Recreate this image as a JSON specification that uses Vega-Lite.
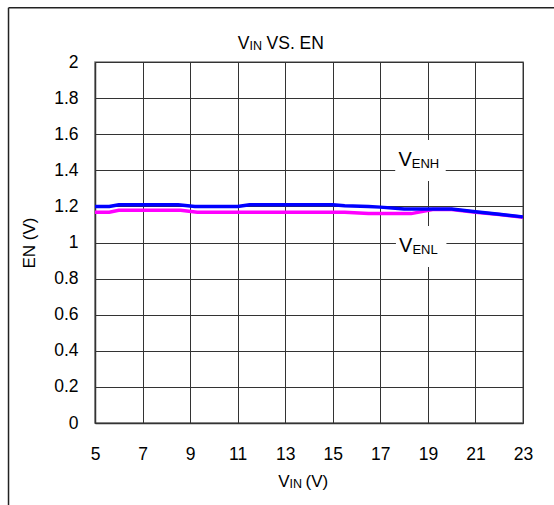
{
  "$schema": "https://vega.github.io/schema/vega-lite/v6.json",
  "autosize": {"type": "none"},
  "width": 428,
  "height": 361,
  "padding": {"left": 95, "top": 62, "right": 31, "bottom": 82},
  "background": "white",
  "config": {
    "font": "Liberation Sans Narrow, Liberation Sans, Arial",
    "view": {"stroke": "#808080", "strokeWidth": 1.5},
    "axis": {
      "grid": true,
      "gridColor": "#333333",
      "gridWidth": 1,
      "domainColor": "#333333",
      "domainWidth": 1.5,
      "ticks": false,
      "labelOverlap": false,
      "labelFlush": false,
      "labelBound": false,
      "labelColor": "#000000",
      "labelFontSize": 17.5,
      "titleColor": "#000000",
      "titleFontSize": 17,
      "titleFontWeight": "normal"
    }
  },
  "datasets": {
    "curves": [
      {"series": "VENH", "vin": 5, "en": 1.2},
      {"series": "VENH", "vin": 5.6, "en": 1.2},
      {"series": "VENH", "vin": 6, "en": 1.209},
      {"series": "VENH", "vin": 8.5, "en": 1.209},
      {"series": "VENH", "vin": 9.2, "en": 1.2},
      {"series": "VENH", "vin": 11, "en": 1.2},
      {"series": "VENH", "vin": 11.5, "en": 1.209},
      {"series": "VENH", "vin": 15, "en": 1.209},
      {"series": "VENH", "vin": 15.5, "en": 1.204},
      {"series": "VENH", "vin": 16.5, "en": 1.2},
      {"series": "VENH", "vin": 17, "en": 1.196},
      {"series": "VENH", "vin": 18, "en": 1.185},
      {"series": "VENH", "vin": 20, "en": 1.185},
      {"series": "VENH", "vin": 21, "en": 1.17},
      {"series": "VENH", "vin": 22, "en": 1.157},
      {"series": "VENH", "vin": 23, "en": 1.142},
      {"series": "VENL", "vin": 5, "en": 1.168},
      {"series": "VENL", "vin": 5.6, "en": 1.168},
      {"series": "VENL", "vin": 6, "en": 1.178},
      {"series": "VENL", "vin": 8.6, "en": 1.178},
      {"series": "VENL", "vin": 9.3, "en": 1.168},
      {"series": "VENL", "vin": 15.5, "en": 1.168},
      {"series": "VENL", "vin": 16.5, "en": 1.16},
      {"series": "VENL", "vin": 18.3, "en": 1.16},
      {"series": "VENL", "vin": 19.2, "en": 1.183},
      {"series": "VENL", "vin": 20, "en": 1.183},
      {"series": "VENL", "vin": 21, "en": 1.168},
      {"series": "VENL", "vin": 22, "en": 1.155},
      {"series": "VENL", "vin": 23, "en": 1.14}
    ],
    "labels": [
      {"name": "V", "sub": "ENH", "x": 18.32, "y": 1.424},
      {"name": "V", "sub": "ENL", "x": 18.35, "y": 0.948}
    ]
  },
  "layer": [
    {
      "data": {"name": "labels"},
      "mark": {"type": "point", "shape": "M-0.66,-1.04H1.36V0.6H-0.66Z", "size": 2500, "filled": true, "fill": "white", "strokeWidth": 0, "opacity": 1},
      "encoding": {
        "x": {"field": "x", "type": "quantitative", "scale": {"domain": [5, 23], "nice": false, "zero": false},
              "axis": {"values": [5, 7, 9, 11, 13, 15, 17, 19, 21, 23], "tickCount": 30, "format": "d", "title": null, "labelPadding": 22, "labelBaseline": "top"}},
        "y": {"field": "y", "type": "quantitative", "scale": {"domain": [0, 2], "nice": false, "zero": false},
              "axis": {"values": [0, 0.2, 0.4, 0.6, 0.8, 1, 1.2, 1.4, 1.6, 1.8, 2], "tickCount": 30, "format": ".1~f", "title": "EN (V)", "labelPadding": 17, "titlePadding": 15}}
      }
    },
    {
      "data": {"name": "curves"},
      "transform": [{"filter": "datum.series === 'VENL'"}],
      "mark": {"type": "line", "color": "#ff00ff", "strokeWidth": 3.5},
      "encoding": {
        "x": {"field": "vin", "type": "quantitative"},
        "y": {"field": "en", "type": "quantitative"}
      }
    },
    {
      "data": {"name": "curves"},
      "transform": [{"filter": "datum.series === 'VENH'"}],
      "mark": {"type": "line", "color": "#0000ff", "strokeWidth": 3.5},
      "encoding": {
        "x": {"field": "vin", "type": "quantitative"},
        "y": {"field": "en", "type": "quantitative"}
      }
    },
    {
      "data": {"name": "labels"},
      "mark": {"type": "text", "align": "right", "baseline": "alphabetic", "fontSize": 20, "color": "#000000"},
      "encoding": {
        "x": {"field": "x", "type": "quantitative"},
        "y": {"field": "y", "type": "quantitative"},
        "text": {"field": "name"}
      }
    },
    {
      "data": {"name": "labels"},
      "mark": {"type": "text", "align": "left", "baseline": "alphabetic", "fontSize": 13, "dy": 2, "color": "#000000"},
      "encoding": {
        "x": {"field": "x", "type": "quantitative"},
        "y": {"field": "y", "type": "quantitative"},
        "text": {"field": "sub"}
      }
    },
    {
      "data": {"values": [{}]},
      "mark": {"type": "text", "text": "V", "align": "right", "baseline": "alphabetic", "fontSize": 17.5, "color": "#000000"},
      "encoding": {"x": {"datum": 11.5}, "y": {"datum": 2.072}}
    },
    {
      "data": {"values": [{}]},
      "mark": {"type": "text", "text": "IN", "align": "left", "baseline": "alphabetic", "fontSize": 12.5, "dy": 1, "color": "#000000"},
      "encoding": {"x": {"datum": 11.5}, "y": {"datum": 2.072}}
    },
    {
      "data": {"values": [{}]},
      "mark": {"type": "text", "text": "VS. EN", "align": "left", "baseline": "alphabetic", "fontSize": 17.5, "dx": 17, "color": "#000000"},
      "encoding": {"x": {"datum": 11.5}, "y": {"datum": 2.072}}
    },
    {
      "data": {"values": [{}]},
      "mark": {"type": "text", "text": "V", "align": "right", "baseline": "alphabetic", "fontSize": 17, "color": "#000000"},
      "encoding": {"x": {"datum": 13.18}, "y": {"datum": -0.354}}
    },
    {
      "data": {"values": [{}]},
      "mark": {"type": "text", "text": "IN", "align": "left", "baseline": "alphabetic", "fontSize": 12.5, "dy": 1, "color": "#000000"},
      "encoding": {"x": {"datum": 13.18}, "y": {"datum": -0.354}}
    },
    {
      "data": {"values": [{}]},
      "mark": {"type": "text", "text": "(V)", "align": "left", "baseline": "alphabetic", "fontSize": 17, "dx": 16, "color": "#000000"},
      "encoding": {"x": {"datum": 13.18}, "y": {"datum": -0.354}}
    },
    {
      "data": {"values": [{}]},
      "mark": {"type": "rule", "color": "#222222", "strokeWidth": 1.5},
      "encoding": {"x": {"datum": 1.363}, "y": {"datum": -0.6}, "y2": {"datum": 2.3}}
    },
    {
      "data": {"values": [{}]},
      "mark": {"type": "rule", "color": "#222222", "strokeWidth": 1.5},
      "encoding": {"y": {"datum": 2.3}, "x": {"datum": 1.363}, "x2": {"datum": 24.6}}
    }
  ]
}
